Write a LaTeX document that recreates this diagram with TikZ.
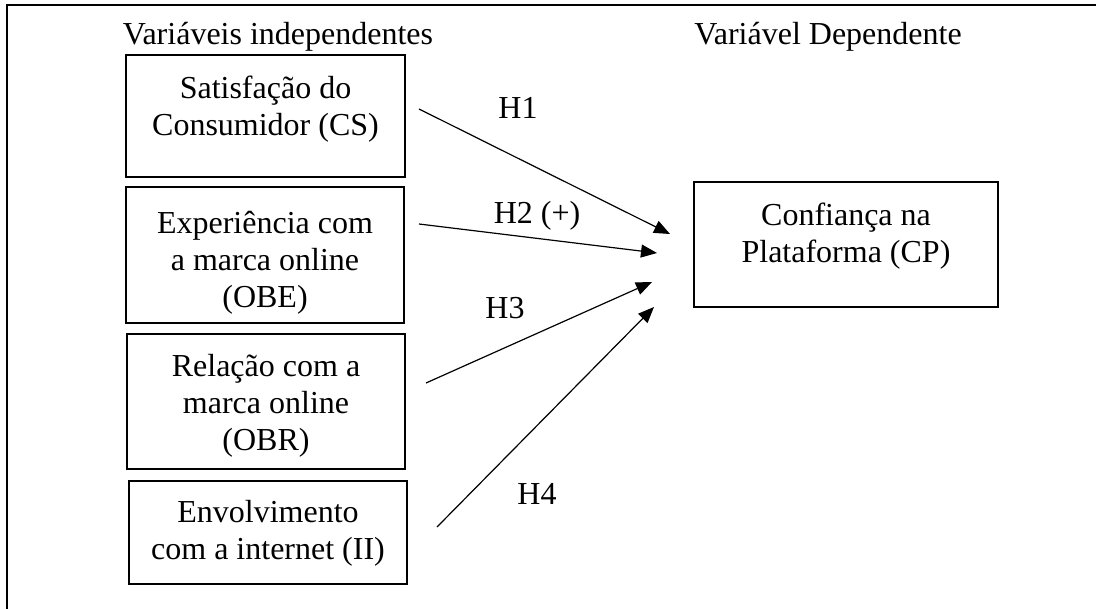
\documentclass[tikz,border=0pt]{standalone}
\usepackage{fontspec}
\setmainfont{Liberation Serif}
\usetikzlibrary{arrows.meta}
\newcommand{\lnstrut}{\rule[-4pt]{0pt}{16pt}}
\begin{document}
\begin{tikzpicture}[x=0.5pt,y=-0.5pt,
  box/.style={draw,line width=1.2pt,inner sep=0pt},
  txt/.style={font=\fontsize{16pt}{18.5pt}\selectfont,align=center,inner sep=0pt,anchor=north},
  lbl/.style={font=\fontsize{16pt}{18.5pt}\selectfont,inner sep=0pt,anchor=base},
  arr/.style={line width=0.6pt,-{Triangle[length=8pt,width=6.5pt]}}]
\useasboundingbox (0,0) rectangle (1096,609);
\draw[line width=1pt] (1096,5) -- (6.5,5) -- (6.5,609);

% headers
\node[lbl] (hind) at (278,45) {Variáveis independentes};
\node[lbl] (hdep) at (828,45) {Variável Dependente};

% boxes
\node[box,minimum width=139.5pt,minimum height=61pt] (cs) at (265.5,116) {};
\node[box,minimum width=139pt,minimum height=68pt] (obe) at (265,255) {};
\node[box,minimum width=139pt,minimum height=67.5pt] (obr) at (266,401.5) {};
\node[box,minimum width=139pt,minimum height=51.5pt] (ii) at (268,532.5) {};
\node[box,minimum width=152pt,minimum height=62.5pt] (cp) at (846,244.5) {};

% box texts
\node[txt] (cst) at (265.5,74) {\lnstrut Satisfação do\\\lnstrut Consumidor (CS)};
\node[txt] (obet) at (265,209) {\lnstrut Experiência com\\\lnstrut a marca online\\\lnstrut (OBE)};
\node[txt] (obrt) at (266,352) {\lnstrut Relação com a\\\lnstrut marca online\\\lnstrut (OBR)};
\node[txt] (iit) at (268,498) {\lnstrut Envolvimento\\\lnstrut com a internet (II)};
\node[txt] (cpt) at (846,201) {\lnstrut Confiança na\\\lnstrut Plataforma (CP)};

% arrow ends
\coordinate (h1s) at (419,109);
\coordinate (h1e) at (670,234);
\coordinate (h2s) at (419,224);
\coordinate (h2e) at (657,253);
\coordinate (h3s) at (426,383);
\coordinate (h3e) at (652,282);
\coordinate (h4s) at (437,527);
\coordinate (h4e) at (654,307);

\draw[arr] (h1s) -- (h1e);
\draw[arr] (h2s) -- (h2e);
\draw[arr] (h3s) -- (h3e);
\draw[arr] (h4s) -- (h4e);

% labels
\node[lbl] (l1) at (518,119) {H1};
\node[lbl] (l2) at (537,223) {H2 (+)};
\node[lbl] (l3) at (505,318) {H3};
\node[lbl] (l4) at (537,504) {H4};
\end{tikzpicture}
\end{document}
